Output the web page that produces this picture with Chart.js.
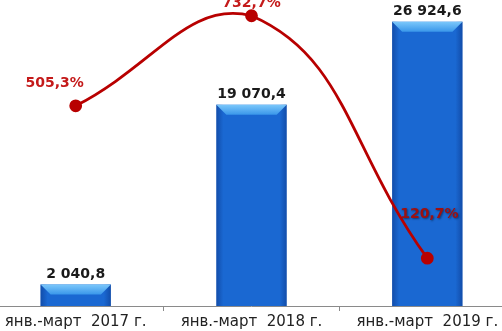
<!DOCTYPE html>
<html>
<head>
<meta charset="utf-8">
<script src="https://cdn.jsdelivr.net/npm/chart.js@4"></script>
<style>
  html, body { margin: 0; padding: 0; background: #fff; overflow: hidden; }
  #wrap { position: absolute; left: -20px; top: -8px; width: 543px; height: 339px; }
</style>
</head>
<body>
<div id="wrap"><canvas id="chart"></canvas></div>
<script>
const labels = ['янв.-март  2017 г.', 'янв.-март  2018 г.', 'янв.-март  2019 г.'];
const volumes = [2040.8, 19070.4, 26924.6];
const growth = [505.3, 732.7, 120.7];

function fmtVolume(v) {
  const [i, d] = v.toFixed(1).split('.');
  return i.replace(/\B(?=(\d{3})+(?!\d))/g, ' ') + ',' + d;
}
function fmtPct(v) {
  return v.toFixed(1).replace('.', ',') + '%';
}

// bevel + side shading on bars, then value labels
const barStyle = {
  id: 'barStyle',
  afterDatasetDraw(chart, args) {
    if (args.index !== 0) return;
    const ctx = chart.ctx;
    args.meta.data.forEach((bar, idx) => {
      const l = bar.x - bar.width / 2, r = bar.x + bar.width / 2;
      const t = bar.y, b = bar.base;
      const g = ctx.createLinearGradient(l, 0, r, 0);
      g.addColorStop(0, 'rgba(10,50,130,0.5)');
      g.addColorStop(0.1, 'rgba(10,50,130,0)');
      g.addColorStop(0.9, 'rgba(10,50,130,0)');
      g.addColorStop(1, 'rgba(10,50,130,0.5)');
      ctx.save();
      ctx.fillStyle = g;
      ctx.fillRect(l, t, r - l, b - t);
      const bev = Math.min(10, (b - t) * 0.5);
      const bg = ctx.createLinearGradient(0, t, 0, t + bev);
      bg.addColorStop(0, '#7cc8fb');
      bg.addColorStop(1, '#3a97ea');
      ctx.fillStyle = bg;
      ctx.beginPath();
      ctx.moveTo(l, t);
      ctx.lineTo(r, t);
      ctx.lineTo(r - bev, t + bev);
      ctx.lineTo(l + bev, t + bev);
      ctx.closePath();
      ctx.fill();
      ctx.fillStyle = '#1a1a1a';
      ctx.font = 'bold 14px "DejaVu Sans"';
      ctx.textAlign = 'center';
      ctx.textBaseline = 'bottom';
      ctx.fillText(fmtVolume(volumes[idx]), bar.x, t - 3);
      ctx.restore();
    });
  },
  afterDatasetsDraw(chart) {
    const ctx = chart.ctx;
    const pts = chart.getDatasetMeta(1).data;
    const offs = [[-21, -22], [0, -12], [2, -44]];
    ctx.save();
    ctx.font = 'bold 14px "DejaVu Sans"';
    ctx.textAlign = 'center';
    ctx.textBaseline = 'middle';
    pts.forEach((p, i) => {
      const x = p.x + offs[i][0], y = p.y + offs[i][1];
      if (i === 2) {
        ctx.shadowColor = 'rgba(0,0,0,0.45)';
        ctx.shadowOffsetX = 1;
        ctx.shadowOffsetY = 1;
        ctx.shadowBlur = 2;
        ctx.fillStyle = '#9e1010';
      } else {
        ctx.shadowColor = 'transparent';
        ctx.fillStyle = '#c41a1a';
      }
      ctx.fillText(fmtPct(growth[i]), x, y);
    });
    ctx.restore();
  }
};

new Chart(document.getElementById('chart'), {
  data: {
    labels: labels,
    datasets: [
      {
        type: 'bar',
        data: volumes,
        backgroundColor: '#1a68d2',
        borderWidth: 0,
        categoryPercentage: 1,
        barPercentage: 0.4,
        yAxisID: 'y',
        order: 1
      },
      {
        type: 'line',
        data: growth,
        borderColor: '#b80000',
        borderWidth: 2.8,
        backgroundColor: '#b80000',
        pointRadius: 5,
        pointHoverRadius: 5,
        tension: 0.45,
        clip: false,
        yAxisID: 'y2',
        order: 0
      }
    ]
  },
  options: {
    responsive: true,
    maintainAspectRatio: false,
    animation: false,
    events: [],
    layout: { padding: 0 },
    plugins: { legend: { display: false }, tooltip: { enabled: false } },
    scales: {
      x: {
        offset: true,
        grid: { display: true, drawOnChartArea: false, color: '#8a8a8a', tickLength: 5, offset: true },
        border: { display: true, color: '#8a8a8a', width: 1 },
        ticks: { color: '#222', font: { family: 'DejaVu Sans', size: 15 }, padding: 2, maxRotation: 0 },
        afterFit(axis) { axis.height = 25; }
      },
      y: { display: false, min: 0, max: 29000 },
      y2: { display: false, min: 0, max: 773 }
    }
  },
  plugins: [barStyle]
});
</script>
</body>
</html>
